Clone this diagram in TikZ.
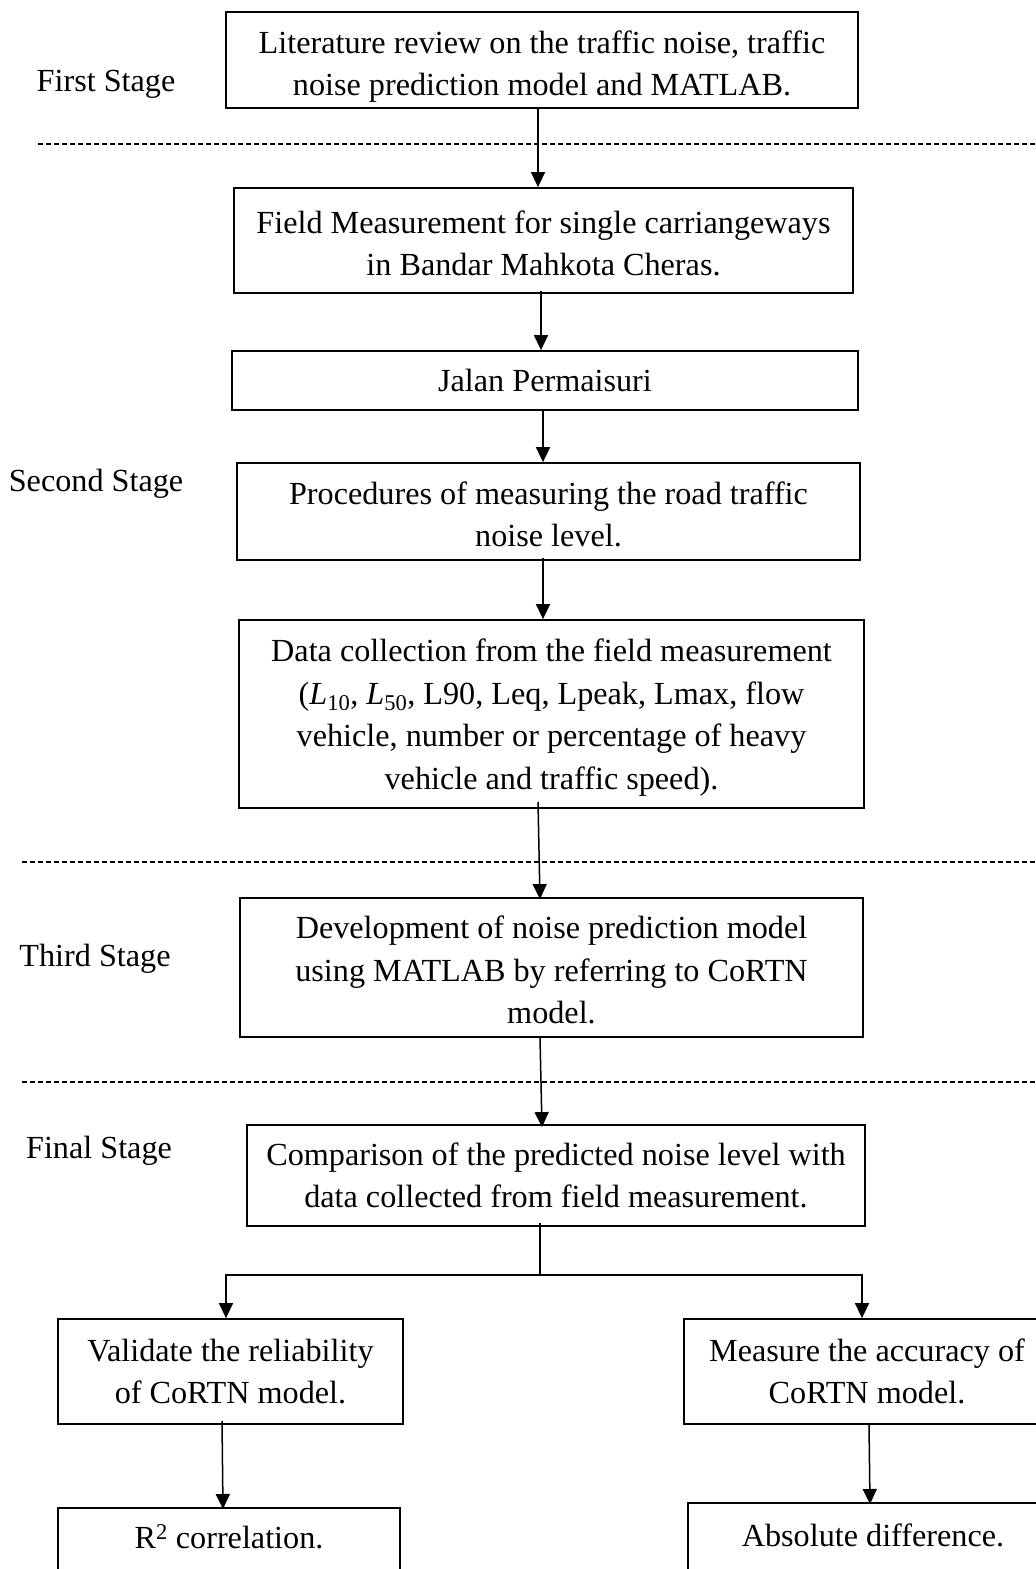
\documentclass[tikz,border=0pt]{standalone}
\usepackage{fontspec}
\setmainfont{Liberation Serif}
\usetikzlibrary{arrows.meta}
\newcommand\firstlinestrut[1]{\rule{0pt}{#1}}
\begin{document}
\begin{tikzpicture}[x=1pt,y=-1pt,
  every node/.style={font=\fontsize{32.2}{42.5}\selectfont},
  box/.style={draw,line width=1.8pt,inner sep=0pt,align=center},
  stagelabel/.style={inner sep=0pt,anchor=center},
  arr/.style={line width=1.5pt,-{Triangle[length=15pt,width=14pt]}},
  link/.style={line width=1.5pt},
  sep/.style={line width=1.8pt,dash pattern=on 5pt off 3pt}]
\useasboundingbox (0,0) rectangle (1036,1569);
\clip (0,0) rectangle (1036,1569);

% process boxes (centre, width, height)
\node[box,minimum width=632,minimum height=96] (lit) at (542,60)
  {\firstlinestrut{36pt}Literature review on the traffic noise, traffic\\noise prediction model and MATLAB.};
\node[box,minimum width=619,minimum height=105] (field) at (543.5,240.5)
  {\firstlinestrut{28pt}Field Measurement for single carriangeways\\in Bandar Mahkota Cheras.};
\node[box,minimum width=626,minimum height=59] (jalan) at (545,380.5)
  {Jalan Permaisuri};
\node[box,minimum width=623,minimum height=97] (proc) at (548.5,511.5)
  {\firstlinestrut{28pt}Procedures of measuring the road traffic\\noise level.};
\node[box,minimum width=625,minimum height=188] (data) at (551.5,714)
  {\firstlinestrut{30pt}Data collection from the field measurement\\
   (\textit{L}\textsubscript{10}, \textit{L}\textsubscript{50}, L90, Leq, Lpeak, Lmax, flow\\
   vehicle, number or percentage of heavy\\vehicle and traffic speed).};
\node[box,minimum width=623,minimum height=139] (dev) at (551.5,967.5)
  {\firstlinestrut{28pt}Development of noise prediction model\\using MATLAB by referring to CoRTN\\model.};
\node[box,minimum width=618,minimum height=101] (comp) at (556,1175.5)
  {Comparison of the predicted noise level with\\data collected from field measurement.};
\node[box,minimum width=345,minimum height=105] (valid) at (230.5,1371.5)
  {Validate the reliability\\of CoRTN model.};
\node[box,minimum width=366,minimum height=105] (meas) at (867,1371.5)
  {Measure the accuracy of\\CoRTN model.};
\node[box,minimum width=342,minimum height=83,anchor=north] (rsq) at (229,1507) {};
\node[inner sep=0pt] (rsqtext) at (229,1537) {R\textsuperscript{2} correlation.};
\node[box,minimum width=370,minimum height=88,anchor=north] (absd) at (873,1502) {};
\node[inner sep=0pt] (absdtext) at (873,1535) {Absolute difference.};

% stage labels
\node[stagelabel] (s1) at (106,84) {First Stage};
\node[stagelabel] (s2) at (96,484) {Second Stage};
\node[stagelabel] (s3) at (95,959) {Third Stage};
\node[stagelabel] (s4) at (99,1151) {Final Stage};

% stage separators
\coordinate (d1a) at (38,144);   \coordinate (d1b) at (1036,144);
\coordinate (d2a) at (22,862);   \coordinate (d2b) at (1036,862);
\coordinate (d3a) at (22,1082);  \coordinate (d3b) at (1036,1082);
\draw[sep] (d1a) -- (d1b);
\draw[sep] (d2a) -- (d2b);
\draw[sep] (d3a) -- (d3b);

% main flow
\draw[arr] ([xshift=-4pt]lit.south) -- ([xshift=-5.5pt]field.north);
\draw[arr] ([xshift=-2.5pt,yshift=3pt]field.south) -- ([xshift=-4pt]jalan.north);
\draw[arr] ([xshift=-2pt,yshift=2pt]jalan.south) -- ([xshift=-5.5pt]proc.north);
\draw[arr] ([xshift=-5.5pt,yshift=3pt]proc.south) -- ([xshift=-8.5pt]data.north);
\draw[arr] ([xshift=-13.5pt,yshift=7pt]data.south) -- ([xshift=-11.5pt,yshift=-2pt]dev.north);
\draw[arr] ([xshift=-11.5pt]dev.south) -- ([xshift=-14pt,yshift=-3pt]comp.north);

% branch to the two checks
\coordinate (split) at (540,1275);
\coordinate (splitL) at (226,1275);
\coordinate (splitR) at (862,1275);
\draw[link] ([xshift=-16pt,yshift=4pt]comp.south) -- (split);
\draw[link,line cap=rect] (splitL) -- (splitR);
\draw[arr] (splitL) -- ([xshift=-4.5pt]valid.north);
\draw[arr] (splitR) -- ([xshift=-5pt]meas.north);

% results
\draw[arr] ([xshift=-8.5pt,yshift=4pt]valid.south) -- ([xshift=-6pt,yshift=-2pt]rsq.north);
\draw[arr] ([xshift=2pt,yshift=1pt]meas.south) -- ([xshift=-3pt,yshift=-2pt]absd.north);
\end{tikzpicture}
\end{document}
